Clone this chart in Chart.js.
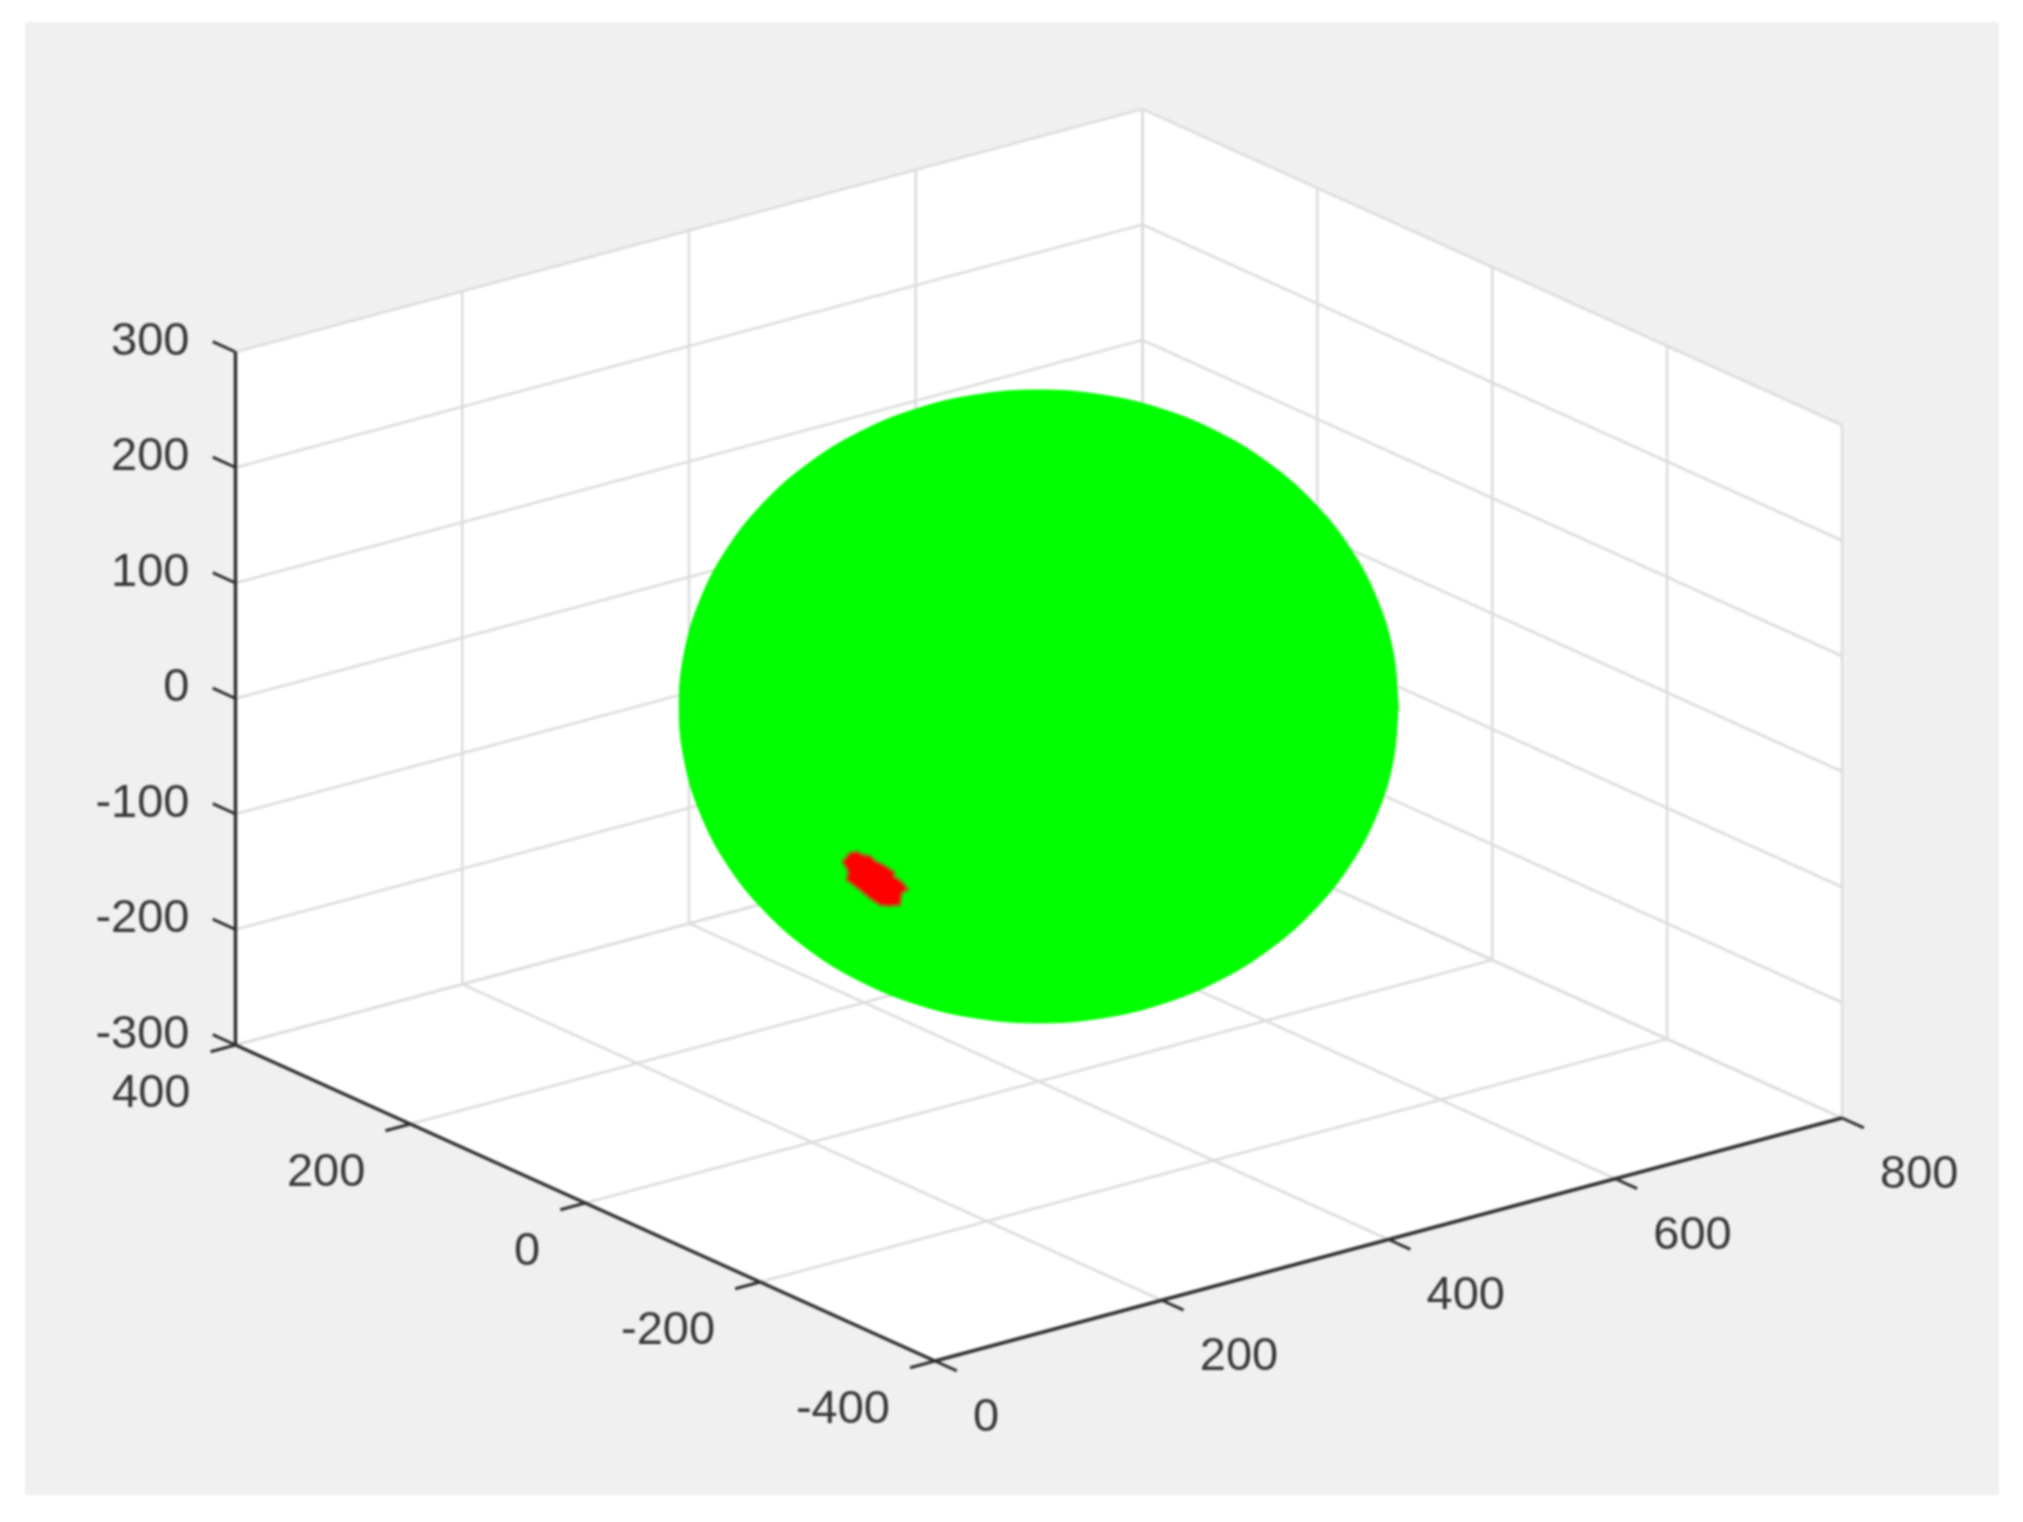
<!DOCTYPE html>
<html>
<head>
<meta charset="utf-8">
<title>3D scatter</title>
<script src="https://cdn.jsdelivr.net/npm/chart.js@4"></script>
<style>
  html, body { margin: 0; background: #fff; }
  #plot { position: absolute; left: 25px; top: 22px; background: #f0f0f0; filter: blur(0.8px); }
</style>
</head>
<body>
<canvas id="plot" width="1974" height="1473"></canvas>
<script>
// tick values of the three axes
const xTicks = [0, 200, 400, 600, 800];
const yTicks = [-400, -200, 0, 200, 400];
const zTicks = [-300, -200, -100, 0, 100, 200, 300];

// outline of the green sphere, on the plane x = 400
const sphereY = [-411.2, -405, -386.4, -356.1, -315, -264.3, -205.6, -140.6, -71.4, 0, 71.4, 140.6, 205.6, 264.3, 315, 356.1, 386.4, 405, 411.2, 405, 386.4, 356.1, 315, 264.3, 205.6, 140.6, 71.4, 0, -71.4, -140.6, -205.6, -264.3, -315, -356.1, -386.4, -405, -411.2];
const sphereZ = [165.3, 115.6, 63.1, 9.5, -43.7, -94.8, -142.3, -184.7, -220.7, -249.3, -269.5, -280.9, -282.9, -275.6, -259.1, -234.1, -201.1, -161.4, -115.9, -66.2, -13.7, 39.9, 93.1, 144.2, 191.7, 234.1, 270.1, 298.7, 318.9, 330.3, 332.3, 325, 308.5, 283.5, 250.5, 210.8, 165.3];

// outline of the red patch, same plane
const patchY = [215.9, 208.2, 200.6, 193, 187.3, 177.8, 165.6, 165.6, 156.7, 149.9, 156.7, 158.7, 172.1, 181.6, 193, 204.4, 219.6, 217.8, 224.2, 215.9];
const patchZ = [-175.8, -172.2, -172.5, -170.7, -172.9, -173.3, -175, -179.3, -180.6, -184.9, -190.6, -201.5, -206.9, -209.3, -207.4, -204.1, -200.6, -192.8, -186.4, -175.8];
const planeX = 400;

const xMin = 0, xMax = 800, yMin = -400, yMax = 400, zMin = -300, zMax = 300;
const gridColor = '#dcdcdc';
const axisColor = '#303030';
const textColor = '#383838';

// fixed camera: data coordinates to the flat view plane
function project(x, y, z) {
  const u = (x - xMin) / 800, v = (y - yMin) / 800, w = (z - zMin) / 600;
  return {
    x: 910 + 907 * u - 699.5 * v,
    y: 1339 - 243 * u - 316 * v - 693 * w
  };
}

function line3d(points, color, width, order) {
  return {
    data: points.map(function (p) { return project(p[0], p[1], p[2]); }),
    showLine: true,
    borderColor: color,
    borderWidth: width,
    pointRadius: 0,
    order: order
  };
}

const datasets = [];

// red patch on top, then the sphere
datasets.push({
  data: patchY.map(function (y, i) { return project(planeX, y, patchZ[i]); }),
  showLine: true,
  fill: 'shape',
  backgroundColor: '#ff0000',
  borderColor: '#8f7a10',
  borderWidth: 3,
  pointRadius: 0,
  order: 1
});
datasets.push({
  data: sphereY.map(function (y, i) { return project(planeX, y, sphereZ[i]); }),
  showLine: true,
  fill: 'shape',
  tension: 0.4,
  backgroundColor: '#00ff00',
  borderColor: '#00ff00',
  borderWidth: 1,
  pointRadius: 0,
  order: 2
});

// dark axes and tick marks
datasets.push(line3d([[xMin, yMax, zMin], [xMin, yMax, zMax]], axisColor, 3.5, 3));
datasets.push(line3d([[xMin, yMax, zMin], [xMin, yMin, zMin]], axisColor, 3.5, 3));
datasets.push(line3d([[xMin, yMin, zMin], [xMax, yMin, zMin]], axisColor, 3.5, 3));
xTicks.forEach(function (t) {
  datasets.push(line3d([[t, yMin, zMin], [t, yMin - 25, zMin]], axisColor, 3, 3));
});
yTicks.forEach(function (t) {
  datasets.push(line3d([[xMin, t, zMin], [xMin - 22, t, zMin]], axisColor, 3, 3));
});
zTicks.forEach(function (t) {
  datasets.push(line3d([[xMin, yMax, t], [xMin, yMax + 26, t]], axisColor, 3, 3));
});

// grid on the floor and on the two back walls
xTicks.forEach(function (t) {
  datasets.push(line3d([[t, yMin, zMin], [t, yMax, zMin], [t, yMax, zMax]], gridColor, 2.5, 4));
});
yTicks.forEach(function (t) {
  datasets.push(line3d([[xMin, t, zMin], [xMax, t, zMin], [xMax, t, zMax]], gridColor, 2.5, 4));
});
zTicks.forEach(function (t) {
  datasets.push(line3d([[xMin, yMax, t], [xMax, yMax, t], [xMax, yMin, t]], gridColor, 2.5, 4));
});

// white box behind everything
datasets.push({
  data: [
    project(xMin, yMax, zMax), project(xMax, yMax, zMax), project(xMax, yMin, zMax),
    project(xMax, yMin, zMin), project(xMin, yMin, zMin), project(xMin, yMax, zMin),
    project(xMin, yMax, zMax)
  ],
  showLine: true,
  fill: 'shape',
  backgroundColor: '#ffffff',
  borderWidth: 0,
  pointRadius: 0,
  order: 5
});

// tick labels sit next to the projected tick, so the library's scales place them
const tickLabels = {
  id: 'tickLabels',
  afterDatasetsDraw: function (chart) {
    const c = chart.ctx, sx = chart.scales.x, sy = chart.scales.y;
    function put(p, dx, dy, text, align) {
      c.textAlign = align;
      c.fillText(text, sx.getPixelForValue(p.x) + dx, sy.getPixelForValue(p.y) + dy);
    }
    c.save();
    c.font = '47px "Liberation Sans"';
    c.fillStyle = textColor;
    c.textBaseline = 'middle';
    xTicks.forEach(function (t) { put(project(t, yMin, zMin), 38, 57, String(t), 'left'); });
    yTicks.forEach(function (t) { put(project(xMin, t, zMin), -45, 49, String(t), 'right'); });
    zTicks.forEach(function (t) { put(project(xMin, yMax, t), -46, -10, String(t), 'right'); });
    c.restore();
  }
};

new Chart(document.getElementById('plot'), {
  type: 'scatter',
  data: { datasets: datasets },
  options: {
    responsive: false,
    animation: false,
    plugins: { legend: { display: false }, tooltip: { enabled: false } },
    scales: {
      x: { type: 'linear', display: false, min: 0, max: 1974 },
      y: { type: 'linear', display: false, min: 0, max: 1473, reverse: true }
    }
  },
  plugins: [tickLabels]
});
</script>
</body>
</html>
